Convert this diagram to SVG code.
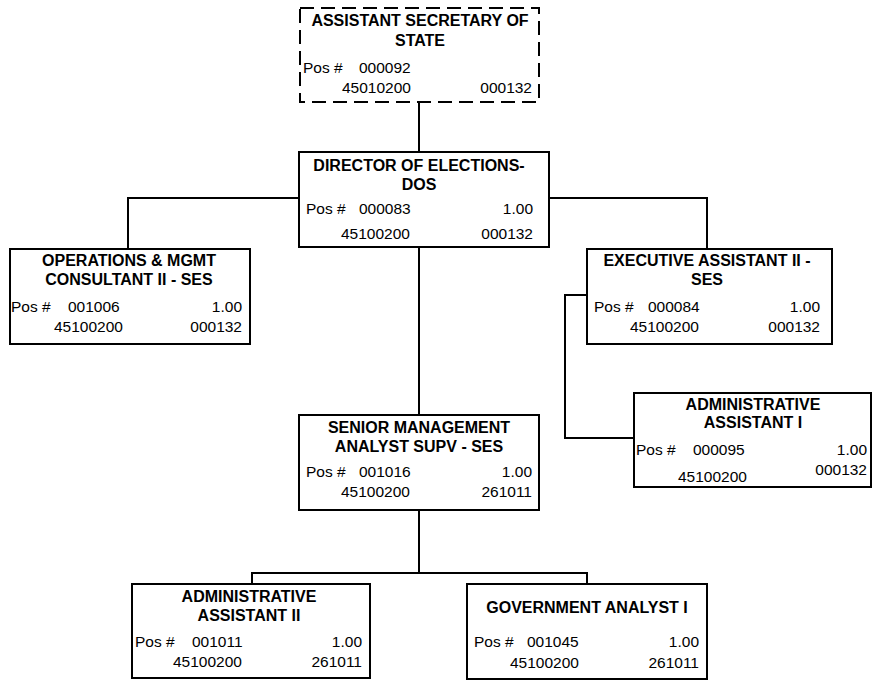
<svg xmlns="http://www.w3.org/2000/svg" width="874" height="683" viewBox="0 0 874 683">
<style>
.box{fill:#fff;stroke:#000;stroke-width:2}
.dash{stroke-dasharray:14 7}
.t{font-family:"Liberation Sans",Arial,sans-serif;font-size:16px;font-weight:bold;text-anchor:middle;fill:#000}
.r{font-family:"Liberation Sans",Arial,sans-serif;font-size:15.5px;fill:#000}
.e{text-anchor:end}
#connectors path{fill:none;stroke:#000;stroke-width:2}
</style>
<rect width="874" height="683" fill="#fff"/>
<g id="connectors">
<path d="M419 102V152"/>
<path d="M299 198H128V249"/>
<path d="M549 198H707V249"/>
<path d="M419 247V415"/>
<path d="M587 295H565V438H634"/>
<path d="M419 510V573H252V584"/>
<path d="M419 573H587V584"/>
</g>
<g id="n1">
<rect class="box dash" x="300" y="8" width="239" height="94"/>
<text class="t" x="420" y="26">ASSISTANT SECRETARY OF</text>
<text class="t" x="420" y="46">STATE</text>
<text class="r" x="303" y="73">Pos #</text>
<text class="r" x="359" y="73">000092</text>
<text class="r" x="342" y="93">45010200</text>
<text class="r e" x="532" y="93">000132</text>
</g>
<g id="n2">
<rect class="box" x="299" y="152" width="250" height="95"/>
<text class="t" x="419" y="171">DIRECTOR OF ELECTIONS-</text>
<text class="t" x="419" y="190">DOS</text>
<text class="r" x="306" y="214">Pos #</text>
<text class="r" x="359" y="214">000083</text>
<text class="r e" x="533" y="214">1.00</text>
<text class="r" x="341" y="239">45100200</text>
<text class="r e" x="533" y="239">000132</text>
</g>
<g id="n3">
<rect class="box" x="10" y="249" width="240" height="95"/>
<text class="t" x="129" y="266">OPERATIONS &amp; MGMT</text>
<text class="t" x="129" y="285">CONSULTANT II - SES</text>
<text class="r" x="11" y="312">Pos #</text>
<text class="r" x="68" y="312">001006</text>
<text class="r e" x="242" y="312">1.00</text>
<text class="r" x="54" y="332">45100200</text>
<text class="r e" x="242" y="332">000132</text>
</g>
<g id="n4">
<rect class="box" x="587" y="249" width="245" height="95"/>
<text class="t" x="707" y="266">EXECUTIVE ASSISTANT II -</text>
<text class="t" x="707" y="285">SES</text>
<text class="r" x="594" y="312">Pos #</text>
<text class="r" x="648" y="312">000084</text>
<text class="r e" x="820" y="312">1.00</text>
<text class="r" x="630" y="332">45100200</text>
<text class="r e" x="820" y="332">000132</text>
</g>
<g id="n5">
<rect class="box" x="634" y="393" width="237" height="94"/>
<text class="t" x="753" y="410">ADMINISTRATIVE</text>
<text class="t" x="753" y="428">ASSISTANT I</text>
<text class="r" x="636" y="455">Pos #</text>
<text class="r" x="693" y="455">000095</text>
<text class="r e" x="867" y="455">1.00</text>
<text class="r" x="678" y="482">45100200</text>
<text class="r e" x="867" y="475">000132</text>
</g>
<g id="n6">
<rect class="box" x="299" y="415" width="240" height="95"/>
<text class="t" x="419" y="433">SENIOR MANAGEMENT</text>
<text class="t" x="419" y="452">ANALYST SUPV - SES</text>
<text class="r" x="306" y="477">Pos #</text>
<text class="r" x="359" y="477">001016</text>
<text class="r e" x="532" y="477">1.00</text>
<text class="r" x="341" y="497">45100200</text>
<text class="r e" x="532" y="497">261011</text>
</g>
<g id="n7">
<rect class="box" x="132" y="584" width="238" height="94"/>
<text class="t" x="249" y="602">ADMINISTRATIVE</text>
<text class="t" x="249" y="621">ASSISTANT II</text>
<text class="r" x="135" y="647">Pos #</text>
<text class="r" x="192" y="647">001011</text>
<text class="r e" x="362" y="647">1.00</text>
<text class="r" x="173" y="667">45100200</text>
<text class="r e" x="362" y="667">261011</text>
</g>
<g id="n8">
<rect class="box" x="467" y="584" width="240" height="95"/>
<text class="t" x="587" y="613">GOVERNMENT ANALYST I</text>
<text class="r" x="474" y="647">Pos #</text>
<text class="r" x="527" y="647">001045</text>
<text class="r e" x="699" y="647">1.00</text>
<text class="r" x="510" y="668">45100200</text>
<text class="r e" x="699" y="668">261011</text>
</g>
</svg>
